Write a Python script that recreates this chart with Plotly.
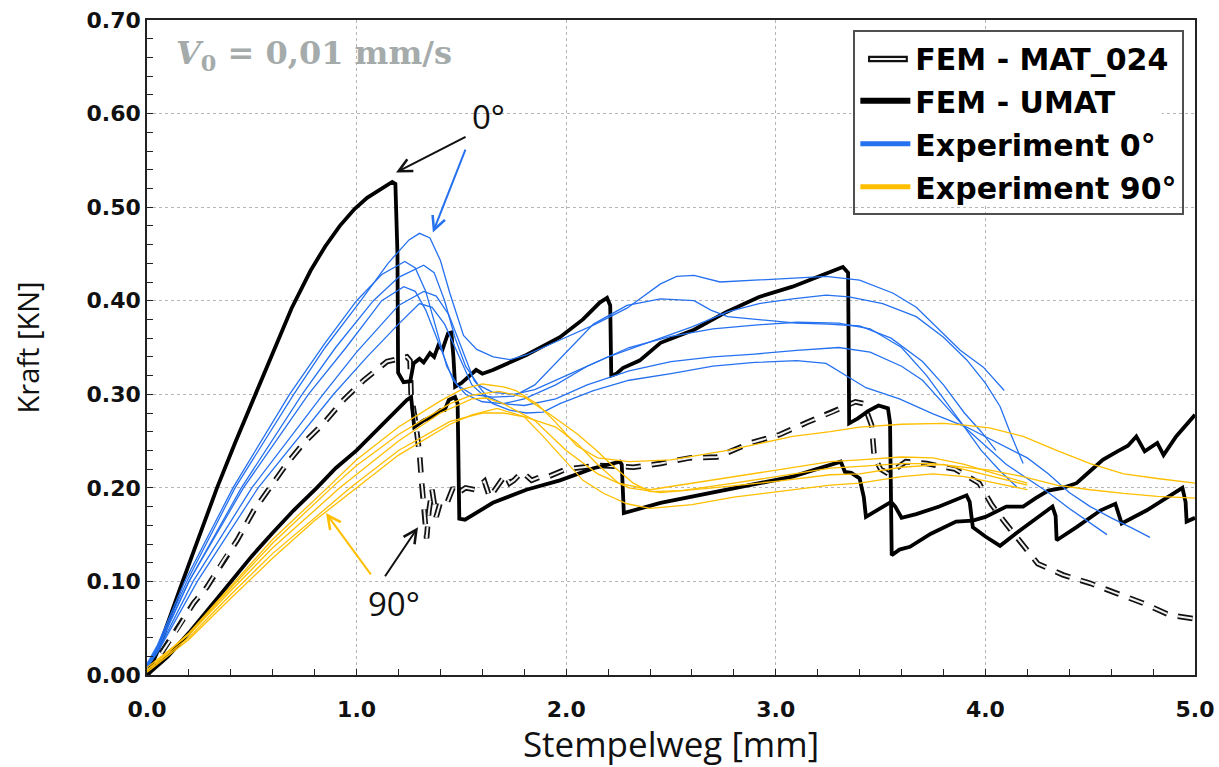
import plotly.graph_objects as go

# ---------------- data ----------------
X_TITLE = "Stempelweg [mm]"
Y_TITLE = "Kraft [KN]"

umat0_x = [0, 0.05, 0.17, 0.334, 0.42, 0.515, 0.60, 0.69, 0.78, 0.85, 0.92, 0.99, 1.05, 1.11, 1.17, 1.185, 1.195,
           1.198, 1.224, 1.256,
           1.272, 1.30, 1.32, 1.35, 1.37, 1.39, 1.41, 1.436, 1.452, 1.462, 1.47, 1.50, 1.55, 1.57, 1.60,
           1.65, 1.81, 1.97, 2.08, 2.16, 2.195, 2.21, 2.215, 2.24, 2.27, 2.35, 2.45, 2.61, 2.765, 2.92,
           3.08, 3.24, 3.32, 3.345, 3.35, 3.39, 3.44, 3.49, 3.535, 3.545, 3.553, 3.59, 3.64, 3.74, 3.86,
           3.94, 4.00, 4.10, 4.18, 4.24, 4.30, 4.37, 4.435, 4.50, 4.56, 4.63, 4.68, 4.72, 4.76, 4.82,
           4.85, 4.91, 4.96, 5.0]
umat0_y = [0, 0.025, 0.10, 0.20, 0.248, 0.298, 0.345, 0.392, 0.432, 0.458, 0.48, 0.498, 0.51, 0.519, 0.527, 0.525, 0.45,
           0.323, 0.313, 0.314,
           0.333, 0.338, 0.334, 0.344, 0.34, 0.352, 0.348, 0.365, 0.366, 0.34, 0.308, 0.312, 0.322, 0.326, 0.322,
           0.326, 0.342, 0.361, 0.38, 0.398, 0.403, 0.395, 0.32, 0.322, 0.328, 0.336, 0.355, 0.369, 0.388, 0.404,
           0.415, 0.429, 0.436, 0.43, 0.269, 0.274, 0.282, 0.288, 0.285, 0.27, 0.128, 0.134, 0.137, 0.151, 0.164,
           0.165, 0.169, 0.18, 0.18, 0.189, 0.197, 0.20, 0.205, 0.218, 0.23, 0.239, 0.245, 0.255, 0.239, 0.248,
           0.235, 0.255, 0.268, 0.278]

umat90_x = [0, 0.1, 0.2, 0.3, 0.4, 0.5, 0.6, 0.7, 0.81, 0.9, 1.0, 1.113, 1.2, 1.24, 1.26, 1.268, 1.275, 1.32, 1.36, 1.40,
            1.42, 1.44, 1.47, 1.482, 1.49, 1.517, 1.65, 1.81, 1.97, 2.13, 2.257, 2.265, 2.275, 2.45, 2.77,
            3.08, 3.31, 3.33, 3.36, 3.40, 3.42, 3.43, 3.55, 3.57, 3.60, 3.67, 3.78, 3.91, 3.925, 3.94,
            4.0, 4.07, 4.15, 4.245, 4.32, 4.335, 4.34, 4.435, 4.55, 4.62, 4.65, 4.77, 4.94, 4.955, 4.96, 5.0]
umat90_y = [0, 0.02, 0.045, 0.072, 0.10, 0.127, 0.152, 0.176, 0.20, 0.221, 0.24, 0.265, 0.285, 0.294, 0.297, 0.28, 0.265,
            0.272, 0.276, 0.283,
            0.283, 0.294, 0.297, 0.29, 0.167, 0.166, 0.184, 0.198, 0.208, 0.221, 0.228, 0.225, 0.173, 0.184, 0.198,
            0.212, 0.228, 0.217, 0.216, 0.21, 0.19, 0.169, 0.185, 0.18, 0.168, 0.172, 0.18, 0.192, 0.185, 0.158,
            0.148, 0.138, 0.152, 0.168, 0.18, 0.17, 0.144, 0.158, 0.176, 0.183, 0.162, 0.176, 0.20, 0.185, 0.164, 0.168]

mat024_x = [0, 0.143, 0.223, 0.286, 0.366, 0.43, 0.51, 0.59, 0.668, 0.748, 0.843, 0.938, 1.034, 1.145, 1.20,
            1.24, 1.255, 1.26, 1.28, 1.30, 1.31, 1.32, 1.334, 1.345, 1.36, 1.38, 1.40, 1.43, 1.46, 1.48,
            1.52, 1.565, 1.61, 1.635, 1.66, 1.71, 1.73, 1.75, 1.79, 1.835, 1.88, 1.915, 2.0, 2.16, 2.32,
            2.45, 2.59, 2.72, 2.88, 3.02, 3.15, 3.27, 3.38, 3.42, 3.457, 3.47, 3.50, 3.537, 3.58, 3.62,
            3.72, 3.855, 3.97, 4.03, 4.09, 4.17, 4.25, 4.37, 4.50, 4.63, 4.75, 4.88, 5.0]
mat024_y = [0, 0.048, 0.077, 0.094, 0.123, 0.144, 0.176, 0.201, 0.226, 0.248, 0.269, 0.294, 0.315, 0.335, 0.338,
            0.34, 0.336, 0.30, 0.272, 0.237, 0.207, 0.185, 0.146, 0.175, 0.198, 0.169, 0.185, 0.183, 0.20, 0.194,
            0.20, 0.198, 0.207, 0.19, 0.198, 0.214, 0.205, 0.208, 0.217, 0.208, 0.212, 0.212, 0.22, 0.224, 0.222,
            0.226, 0.232, 0.233, 0.248, 0.257, 0.27, 0.281, 0.292, 0.29, 0.267, 0.233, 0.22, 0.215, 0.222, 0.228,
            0.226, 0.22, 0.205, 0.182, 0.164, 0.142, 0.119, 0.107, 0.098, 0.087, 0.077, 0.064, 0.06]

# Experiment 0 deg (six specimens)
exp0_1_x = [0, 0.05, 0.19, 0.42, 0.70, 0.85, 1.02, 1.15, 1.25, 1.30, 1.35, 1.40, 1.445, 1.51, 1.573, 1.652, 1.732,
            1.81, 1.97, 2.13, 2.29, 2.45, 2.527, 2.61, 2.734, 2.925, 3.08, 3.24, 3.40, 3.56, 3.67, 3.78, 3.88, 3.99, 4.09]
exp0_1_y = [0.01, 0.03, 0.10, 0.20, 0.30, 0.35, 0.40, 0.44, 0.465, 0.472, 0.467, 0.443, 0.408, 0.363, 0.348, 0.34, 0.337,
            0.342, 0.358, 0.374, 0.392, 0.418, 0.426, 0.427, 0.42, 0.422, 0.424, 0.426, 0.422, 0.408, 0.393, 0.369, 0.347, 0.329, 0.304]
exp0_2_x = [0, 0.05, 0.18, 0.41, 0.68, 0.85, 1.0, 1.12, 1.23, 1.28, 1.33, 1.38, 1.43, 1.48, 1.55, 1.65, 1.75, 1.85,
            2.0, 2.13, 2.29, 2.45, 2.61, 2.69, 2.77, 2.95, 3.1, 3.25, 3.4, 3.55, 3.7, 3.8, 3.9, 3.98, 4.05]
exp0_2_y = [0.012, 0.032, 0.10, 0.20, 0.30, 0.355, 0.40, 0.428, 0.442, 0.435, 0.41, 0.37, 0.33, 0.31, 0.30, 0.297, 0.298, 0.31,
            0.345, 0.375, 0.395, 0.402, 0.40, 0.39, 0.383, 0.379, 0.376, 0.375, 0.373, 0.36, 0.335, 0.31, 0.28, 0.26, 0.24]
exp0_3_x = [0, 0.05, 0.20, 0.45, 0.74, 0.9, 1.08, 1.2, 1.32, 1.37, 1.42, 1.47, 1.52, 1.58, 1.65, 1.75, 1.85, 2.0,
            2.2, 2.45, 2.6, 2.77, 2.92, 3.08, 3.24, 3.35, 3.51, 3.67, 3.80, 3.91, 4.0, 4.07, 4.12, 4.18]
exp0_3_y = [0.01, 0.028, 0.10, 0.20, 0.30, 0.35, 0.40, 0.425, 0.438, 0.43, 0.40, 0.36, 0.33, 0.31, 0.302, 0.30, 0.305, 0.32,
            0.34, 0.36, 0.372, 0.388, 0.397, 0.402, 0.406, 0.404, 0.397, 0.383, 0.361, 0.337, 0.312, 0.287, 0.258, 0.226]
exp0_4_x = [0, 0.05, 0.20, 0.46, 0.77, 0.95, 1.12, 1.225, 1.28, 1.33, 1.40, 1.46, 1.52, 1.6, 1.7, 1.8, 1.95, 2.1,
            2.3, 2.5, 2.7, 2.9, 3.1, 3.3, 3.45, 3.6, 3.72, 3.82, 3.9, 3.98, 4.07, 4.15]
exp0_4_y = [0.01, 0.027, 0.10, 0.20, 0.30, 0.35, 0.40, 0.415, 0.41, 0.39, 0.35, 0.315, 0.30, 0.292, 0.29, 0.295, 0.31, 0.33,
            0.35, 0.362, 0.37, 0.374, 0.377, 0.376, 0.37, 0.35, 0.32, 0.29, 0.265, 0.24, 0.218, 0.201]
exp0_5_x = [0, 0.05, 0.22, 0.50, 0.84, 1.0, 1.2, 1.32, 1.38, 1.44, 1.5, 1.56, 1.62, 1.7, 1.8, 1.95, 2.1, 2.3, 2.5,
            2.7, 2.9, 3.1, 3.3, 3.45, 3.6, 3.7, 3.8, 3.9, 4.0, 4.1, 4.2, 4.3, 4.4, 4.5, 4.58]
exp0_5_y = [0.008, 0.025, 0.10, 0.20, 0.30, 0.345, 0.395, 0.41, 0.405, 0.385, 0.35, 0.315, 0.298, 0.29, 0.288, 0.295, 0.31,
            0.325, 0.335, 0.34, 0.343, 0.347, 0.35, 0.345, 0.33, 0.315, 0.29, 0.265, 0.245, 0.225, 0.21, 0.195, 0.178, 0.162, 0.15]
exp0_6_x = [0, 0.05, 0.24, 0.53, 0.89, 1.05, 1.2, 1.30, 1.36, 1.42, 1.48, 1.55, 1.65, 1.73, 1.81, 1.89, 1.97, 2.13,
            2.3, 2.5, 2.7, 2.9, 3.1, 3.24, 3.35, 3.43, 3.59, 3.75, 3.91, 4.07, 4.2, 4.3, 4.4, 4.5, 4.6, 4.7, 4.785]
exp0_6_y = [0.008, 0.024, 0.10, 0.20, 0.30, 0.34, 0.375, 0.397, 0.393, 0.375, 0.345, 0.31, 0.29, 0.283, 0.28, 0.281, 0.29, 0.304,
            0.315, 0.322, 0.33, 0.334, 0.336, 0.333, 0.318, 0.307, 0.295, 0.279, 0.265, 0.247, 0.232, 0.215, 0.195, 0.18, 0.168, 0.157, 0.147]

# Experiment 90 deg (five specimens)
exp90_1_x = [0, 0.2, 0.4, 0.6, 0.86, 1.0, 1.2, 1.4, 1.5, 1.6, 1.7, 1.76, 1.86, 1.95, 2.05, 2.15, 2.3, 2.5, 2.77,
             3.08, 3.26, 3.4, 3.6, 3.8, 3.9, 4.02, 4.18, 4.34, 4.5, 4.66, 4.82, 5.0]
exp90_1_y = [0.005, 0.045, 0.095, 0.145, 0.20, 0.23, 0.265, 0.293, 0.305, 0.311, 0.308, 0.304, 0.29, 0.27, 0.245, 0.232, 0.228,
             0.23, 0.24, 0.255, 0.26, 0.265, 0.268, 0.269, 0.267, 0.264, 0.255, 0.24, 0.226, 0.215, 0.21, 0.205]
exp90_2_x = [0, 0.2, 0.4, 0.6, 0.88, 1.0, 1.2, 1.446, 1.55, 1.68, 1.80, 1.92, 2.05, 2.145, 2.21, 2.32, 2.40, 2.55,
             2.8, 3.0, 3.26, 3.4, 3.6, 3.75, 3.9, 4.02, 4.18, 4.34, 4.5, 4.66, 4.82, 5.0]
exp90_2_y = [0.005, 0.044, 0.093, 0.141, 0.20, 0.224, 0.257, 0.29, 0.299, 0.303, 0.297, 0.279, 0.258, 0.24, 0.226, 0.205, 0.196,
             0.197, 0.205, 0.212, 0.221, 0.223, 0.226, 0.226, 0.222, 0.219, 0.212, 0.203, 0.198, 0.194, 0.191, 0.189]
exp90_3_x = [0, 0.2, 0.4, 0.6, 0.8, 1.0, 1.2, 1.446, 1.55, 1.67, 1.8, 1.89, 1.99, 2.08, 2.18, 2.29, 2.4, 2.6, 2.8,
             3.0, 3.26, 3.4, 3.6, 3.75, 3.9, 4.05, 4.2]
exp90_3_y = [0.003, 0.038, 0.082, 0.125, 0.165, 0.20, 0.235, 0.268, 0.278, 0.285, 0.276, 0.255, 0.23, 0.208, 0.194, 0.183, 0.178,
             0.182, 0.19, 0.196, 0.203, 0.205, 0.212, 0.215, 0.212, 0.205, 0.198]
exp90_4_x = [0, 0.2, 0.4, 0.6, 0.92, 1.2, 1.4, 1.55, 1.62, 1.7, 1.85, 2.0, 2.15, 2.3, 2.45, 2.7, 3.0, 3.26, 3.4,
             3.6, 3.8, 4.0, 4.1, 4.2]
exp90_4_y = [0.008, 0.043, 0.09, 0.136, 0.20, 0.25, 0.28, 0.295, 0.296, 0.29, 0.272, 0.24, 0.215, 0.20, 0.195, 0.20, 0.207,
             0.214, 0.215, 0.222, 0.225, 0.214, 0.208, 0.203]
exp90_5_x = [0, 0.2, 0.4, 0.6, 0.97, 1.2, 1.446, 1.6, 1.7, 1.8, 1.95, 2.05, 2.15, 2.25, 2.4, 2.6, 2.9, 3.1, 3.26,
             3.4, 3.6, 3.75, 3.9, 4.05, 4.2]
exp90_5_y = [0.005, 0.04, 0.086, 0.13, 0.20, 0.24, 0.271, 0.28, 0.28, 0.276, 0.265, 0.248, 0.225, 0.205, 0.198, 0.205, 0.215,
             0.222, 0.228, 0.23, 0.233, 0.232, 0.225, 0.215, 0.205]

legend_names = ["FEM - MAT_024", "FEM - UMAT", "Experiment 0°", "Experiment 90°"]

# ---------------- styles ----------------
BLUE = "#2571f0"
GOLD = "#ffbf00"
BLACK = "#000000"

fig = go.Figure()

def add_line(x, y, color, width, dash="solid"):
    fig.add_trace(go.Scatter(x=x, y=y, mode="lines", showlegend=False, hoverinfo="skip",
                             line=dict(color=color, width=width, dash=dash)))

# FEM curves
add_line(mat024_x, mat024_y, "#111111", 5.5, "15px,11px")
add_line(mat024_x, mat024_y, "#f2f2f2", 2.0, "15px,11px")
add_line(umat0_x, umat0_y, BLACK, 3.8)
add_line(umat90_x, umat90_y, BLACK, 3.8)

for xs, ys in [(exp0_1_x, exp0_1_y), (exp0_2_x, exp0_2_y), (exp0_3_x, exp0_3_y),
               (exp0_4_x, exp0_4_y), (exp0_5_x, exp0_5_y), (exp0_6_x, exp0_6_y)]:
    add_line(xs, ys, BLUE, 1.3)
for xs, ys in [(exp90_1_x, exp90_1_y), (exp90_2_x, exp90_2_y), (exp90_3_x, exp90_3_y),
               (exp90_4_x, exp90_4_y), (exp90_5_x, exp90_5_y)]:
    add_line(xs, ys, GOLD, 1.3)

# legend entries (the MAT_024 sample is drawn as a hollow bar below, so its own sample is transparent)
leg_styles = [("rgba(0,0,0,0)", 6), (BLACK, 6), (BLUE, 5), (GOLD, 5)]
for i, (name, (c, w)) in enumerate(zip(legend_names, leg_styles)):
    fig.add_trace(go.Scatter(x=[None], y=[None], mode="lines", name=name, legendgroup=f"g{i}",
                             line=dict(color=c, width=w)))

TICKFONT = dict(family="DejaVu Sans", size=22, color="#111111", weight="bold")

fig.update_layout(
    width=1219, height=767,
    margin=dict(l=147, r=24, t=20, b=92),
    paper_bgcolor="white", plot_bgcolor="white",
    showlegend=True,
    legend=dict(x=0.674, y=0.985, xanchor="left", yanchor="top",
                bgcolor="rgba(0,0,0,0)", bordercolor="#505050", borderwidth=2,
                font=dict(family="DejaVu Sans", size=30, color="#000000", weight="bold"),
                traceorder="grouped", tracegroupgap=1, itemwidth=50),
    xaxis=dict(range=[0, 5], dtick=1, tick0=0, tickformat=".1f",
               showline=True, linecolor="#222222", linewidth=1.5, mirror=True,
               ticks="inside", ticklen=6, tickcolor="#222222", ticklabelstandoff=14,
               showgrid=True, gridcolor="#b5b5b5", griddash="3px,3px", gridwidth=1,
               minor=dict(dtick=0.2, ticks="inside", ticklen=6, tickcolor="#222222", showgrid=False),
               tickfont=TICKFONT, zeroline=False, automargin=False,
               title=dict(text=X_TITLE, font=dict(family="Open Sans", size=35, color="#111111"), standoff=4)),
    yaxis=dict(range=[0, 0.70], dtick=0.1, tick0=0, tickformat=".2f",
               showline=True, linecolor="#222222", linewidth=1.5, mirror=True,
               ticks="inside", ticklen=6, tickcolor="#222222",
               showgrid=True, gridcolor="#b5b5b5", griddash="3px,3px", gridwidth=1,
               minor=dict(dtick=0.02, ticks="inside", ticklen=6, tickcolor="#222222", showgrid=False),
               tickfont=TICKFONT, zeroline=False, automargin=False,
               title=dict(text=Y_TITLE, font=dict(family="Open Sans", size=29, color="#111111"), standoff=38)),
)

# white background behind the (transparent) legend, and the hollow MAT_024 legend sample
fig.add_shape(type="rect", xref="paper", yref="paper", x0=0.672, x1=0.9685, y0=0.72, y1=0.984,
              fillcolor="white", line=dict(width=0), layer="above")
fig.add_shape(type="line", xref="paper", yref="paper", x0=0.688, x1=0.726, y0=0.9405, y1=0.9405,
              line=dict(color="#111111", width=6.5), layer="above")
fig.add_shape(type="line", xref="paper", yref="paper", x0=0.690, x1=0.724, y0=0.9405, y1=0.9405,
              line=dict(color="#f2f2f2", width=2), layer="above")

ANNFONT = dict(family="Open Sans", size=33, color="#111111")
fig.add_annotation(x=0.13, y=0.663, xref="x", yref="y", xanchor="left", yanchor="middle",
                   text="<b><i>V</i><sub>0</sub> = 0,01 mm/s</b>", showarrow=False,
                   font=dict(family="DejaVu Serif", size=32, color="#a5abab"))
fig.add_annotation(x=1.63, y=0.597, text="0°", showarrow=False, font=ANNFONT)
fig.add_annotation(x=1.18, y=0.076, text="90°", showarrow=False, font=ANNFONT)

arrows = [((1.188, 0.537), (1.527, 0.576), "#111111"),
          ((1.364, 0.473), (1.522, 0.563), BLUE),
          ((0.854, 0.173), (1.073, 0.106), GOLD),
          ((1.293, 0.158), (1.131, 0.104), "#111111")]
for (hx, hy), (tx, ty), col in arrows:
    fig.add_annotation(x=hx, y=hy, ax=tx, ay=ty, xref="x", yref="y", axref="x", ayref="y",
                       text="", showarrow=True, arrowhead=5, arrowsize=1.3, arrowwidth=2, arrowcolor=col)

fig.write_html("out.html", config={"displayModeBar": False},
               post_script="document.body.style.margin='0px';")
